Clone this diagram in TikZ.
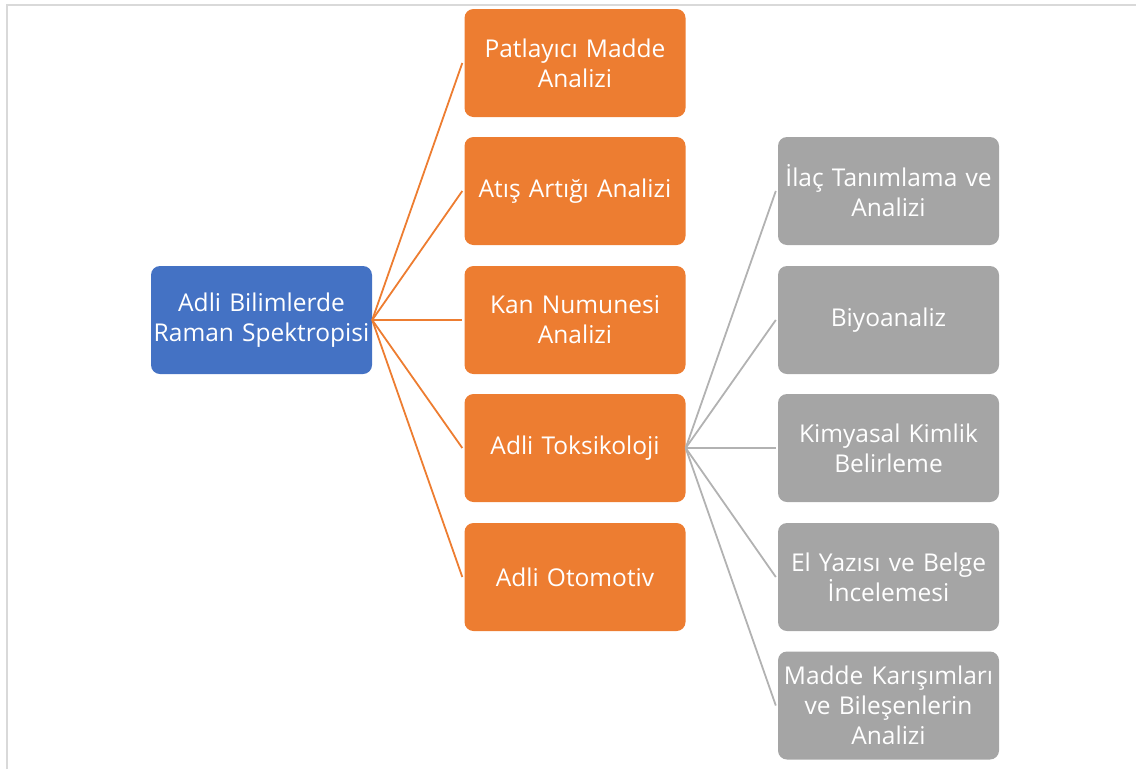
\documentclass[tikz,border=0pt]{standalone}
\usepackage{fontspec}
\setmainfont{Open Sans}
\definecolor{blueb}{HTML}{4472C4}
\definecolor{orangeb}{HTML}{ED7D31}
\definecolor{grayb}{HTML}{A5A5A5}
\definecolor{frameg}{HTML}{D9D9D9}
\begin{document}
\begin{tikzpicture}[x=1pt,y=-1pt,
  box/.style={rounded corners=9pt,minimum width=221pt,minimum height=108pt,inner sep=2pt,
    text=white,align=center,font=\fontsize{24.5}{30}\selectfont,text width=216pt},
  rootbox/.style={box,fill=blueb},
  obox/.style={box,fill=orangeb},
  gbox/.style={box,fill=grayb},
  oline/.style={draw=orangeb,line width=1.8pt},
  gline/.style={draw=grayb!85,line width=1.8pt}]
\useasboundingbox (0,0) rectangle (1136,769);
\draw[frameg,line width=2pt] (7,769) -- (7,5) -- (1136,5);
\node[rootbox] (root) at (261.5,320) {Adli Bilimlerde\\Raman Spektropisi};
\node[obox] (o1) at (575,63) {Patlayıcı Madde\\Analizi};
\node[obox] (o2) at (575,191) {Atış Artığı Analizi};
\node[obox] (o3) at (575,320) {Kan Numunesi\\Analizi};
\node[obox] (o4) at (575,448) {Adli Toksikoloji};
\node[obox] (o5) at (575,577) {Adli Otomotiv};
\node[gbox] (g1) at (888.5,191) {İlaç Tanımlama ve\\Analizi};
\node[gbox] (g2) at (888.5,320) {Biyoanaliz};
\node[gbox] (g3) at (888.5,448) {Kimyasal Kimlik\\Belirleme};
\node[gbox] (g4) at (888.5,577) {El Yazısı ve Belge\\İncelemesi};
\node[gbox] (g5) at (888.5,705.5) {Madde Karışımları\\ve Bileşenlerin\\Analizi};
\foreach \i in {1,...,5}{
  \draw[oline] (root.east) -- ([xshift=-2pt]o\i.west);
  \draw[gline] (o4.east) -- ([xshift=-2pt]g\i.west);
}
\end{tikzpicture}
\end{document}
